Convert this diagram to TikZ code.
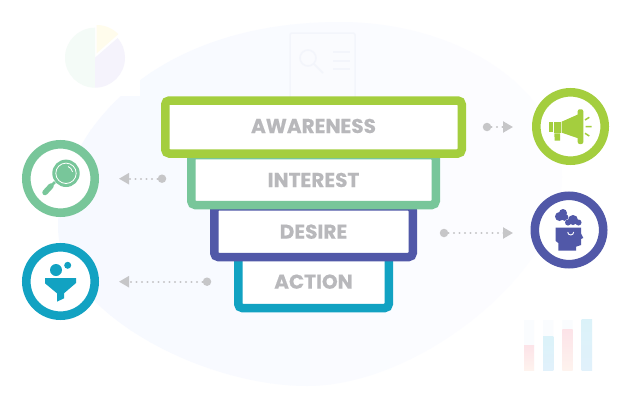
\documentclass[tikz,border=0pt]{standalone}
\usepackage{fontspec}
\setmainfont{Poppins}
\newfontfamily\headfont{Poppins}[UprightFont=* Bold,FakeBold=0.35]
\usetikzlibrary{arrows.meta}
\definecolor{cgreen}{HTML}{A4CE3E}
\definecolor{cteal}{HTML}{78C69A}
\definecolor{cindigo}{HTML}{5158A8}
\definecolor{cblue}{HTML}{12A2C2}
\definecolor{ctext}{HTML}{B8B8BB}
\definecolor{carrow}{HTML}{C6C6C8}
\definecolor{piegreen}{HTML}{F4FBF7}
\definecolor{pielav}{HTML}{F5F3FC}
\definecolor{pieyel}{HTML}{FFFCEC}
\definecolor{docfill}{HTML}{FAFBFE}
\definecolor{docline}{HTML}{F3F5FB}
\definecolor{barpink}{HTML}{FCE3E8}
\definecolor{barpeach}{HTML}{FEF3EE}
\definecolor{barcyan}{HTML}{DBF2F9}
\definecolor{barsky}{HTML}{E1F1FB}
\definecolor{barback}{HTML}{FAFCFE}
\definecolor{blobleft}{HTML}{F6F9FF}
\definecolor{blobright}{HTML}{FDFDFF}
\tikzset{
  x=1pt,y=-1pt,
  funnelbox/.style={draw=#1,fill=white,line width=8.5pt,rounded corners=4pt,inner sep=0pt,
    font=\headfont\fontsize{20}{20}\selectfont,text=ctext,text height=14pt,text depth=0pt,align=center},
  ringnode/.style={circle,draw=#1,fill=white,line width=8.6pt,minimum size=68.4pt,inner sep=0pt},
  dotnode/.style={circle,fill=carrow,minimum size=8.5pt,inner sep=0pt},
  flow/.style={draw=carrow,line width=2.1pt,line cap=round,dash pattern=on 0.1pt off 5.4pt,
    -{Triangle[length=10pt,width=11pt,fill=carrow]}},
}
\begin{document}
\begin{tikzpicture}
\useasboundingbox (0,0) rectangle (631,407);
\fill[white] (0,0) rectangle (631,407);
% background blob, in vertical strips so that it fades to the right
\begin{scope}
\clip (58,227) .. controls (58,135) and (150,22) .. (340,22)
  .. controls (460,22) and (562,90) .. (562,177)
  .. controls (562,270) and (420,386) .. (307,386)
  .. controls (200,386) and (58,310) .. (58,227) -- cycle;
\foreach \s in {0,...,25}{
  \pgfmathsetmacro{\mixv}{100-\s*4}
  \fill[blobleft!\mixv!blobright] (50+\s*20,10) rectangle (71+\s*20,395);
}
\end{scope}
% faint pie card
\fill[white] (58,12) rectangle (140,96);
\fill[piegreen] (95,57.7) -- (95,27.7) arc[start angle=-90,end angle=-270,radius=30] -- cycle;
\fill[pielav] (95,57.7) -- (95,87.7) arc[start angle=90,end angle=-41,radius=30] -- cycle;
\fill[pieyel] (96.7,53.3) -- (96.7,25) arc[start angle=-90,end angle=-44,radius=30] -- cycle;
% faint search document
\fill[docfill,draw=docline,line width=1.5pt,rounded corners=2pt] (290,33) rectangle (355,110);
\draw[docline,line width=1.6pt] (308,58) circle[radius=8] (314,64) -- (323,73);
\draw[docline,line width=1.4pt] (333,52) -- (350,52) (333,61) -- (350,61) (333,69) -- (350,69);
% faint bar chart card
\fill[white,rounded corners=4pt] (517,309) rectangle (603,380);
\fill[barback] (524,320) rectangle (534,346) (543,320) rectangle (553.3,337) (562.3,320) rectangle (572.7,330);
\shade[top color=barpink,bottom color=barpeach] (524,345) rectangle (534,370.7);
\shade[top color=barcyan,bottom color=barsky] (543,336.7) rectangle (553.3,370.7);
\shade[top color=barpink,bottom color=barpeach] (562.3,329.3) rectangle (572.7,370.7);
\shade[top color=barcyan,bottom color=barsky] (581.7,319) rectangle (592,370.7);
% funnel boxes (lowest first)
\node[funnelbox=cblue,minimum width=150.5pt,minimum height=52.6pt] (action) at (313.5,281.7) {ACTION};
\node[funnelbox=cindigo,minimum width=198.5pt,minimum height=50.6pt] (desire) at (313.5,231.7) {DESIRE};
\node[funnelbox=cteal,minimum width=244.5pt,minimum height=50pt] (interest) at (313.5,180) {INTEREST};
\node[funnelbox=cgreen,minimum width=296.5pt,minimum height=53pt,text depth=2pt] (awareness) at (313.5,127) {AWARENESS};
% rings
\node[ringnode=cgreen] (megaring) at (570.5,126.5) {};
\node[ringnode=cteal] (lensring) at (60.5,178.5) {};
\node[ringnode=cindigo] (headring) at (569,230) {};
\node[ringnode=cblue] (funnelring) at (60.5,281.5) {};
% connectors
\node[dotnode] (dotaw) at (487,127) {};
\node[dotnode] (dotin) at (162,178.7) {};
\node[dotnode] (dotde) at (444,233) {};
\node[dotnode] (dotac) at (207,281.7) {};
\coordinate (tipaw) at (513,127);
\coordinate (tipin) at (119,178.7);
\coordinate (tipde) at (513,233);
\coordinate (tipac) at (119,281.7);
\draw[flow] (dotaw) -- (tipaw);
\draw[flow] (dotin) -- (tipin);
\draw[flow] (dotde) -- (tipde);
\draw[flow] (dotac) -- (tipac);
% megaphone
\fill[cgreen] (561.7,121.7) -- (578.3,114.3) -- (578.3,138.3) -- (561.7,132.7) -- cycle;
\fill[cgreen] (554.3,121.7) rectangle (561,132.7);
\fill[cgreen] (549.3,121.7) rectangle (553.3,131.7);
\fill[cgreen] (554.3,133.3) -- (560,133.3) -- (560,140.7) -- (554.7,140.7) -- cycle;
\fill[cgreen,rounded corners=2pt] (577.7,109.3) rectangle (583.3,144);
\draw[cgreen,line width=1.5pt] (585,120) -- (589.3,117.3) (585.7,126.7) -- (591.7,126.7) (585,133.3) -- (589.3,136);
% magnifier
\fill[cteal] (66,173.3) circle[radius=13.7];
\draw[white,line width=0.8pt] (66,173.3) circle[radius=10.2];
\draw[white,line width=0.8pt] (68,166.5) arc[start angle=-70,end angle=-10,radius=7];
\draw[cteal,line width=2.5pt] (55,182) -- (50,187);
\draw[cteal,line width=5.5pt,line cap=round] (51,186) -- (45,192.5);
% head and clouds
\fill[cindigo] (555.7,227.7) -- (581,227.7) -- (581,233.3) -- (583.3,238) -- (581,239) -- (581,245) -- (576,246.7) -- (576,250.7) -- (558.3,250.7) -- (558.3,243) -- (555.7,241) -- cycle;
\draw[white,line width=0.9pt] (567.7,232) arc[start angle=180,end angle=0,radius=3];
\fill[cindigo] (559.5,216.5) circle[radius=4.5] (563,213) circle[radius=4] (565,217.5) circle[radius=3.5];
\fill[cindigo,draw=white,line width=0.8pt] (573,220) circle[radius=5] (568,222.5) circle[radius=3] (578.5,222.5) circle[radius=3];
\fill[cindigo] (573,220) circle[radius=5] (568,222.5) circle[radius=3] (578.5,222.5) circle[radius=3];
% funnel icon
\fill[cblue] (56,270) circle[radius=6] (67.7,265.3) circle[radius=3.5];
\fill[cblue] (45,278) -- (76,278) -- (76,283) -- (64,293.3) -- (64,298.3) -- (57,301.7) -- (57,293.3) -- (45,283.3) -- cycle;
\end{tikzpicture}
\end{document}
